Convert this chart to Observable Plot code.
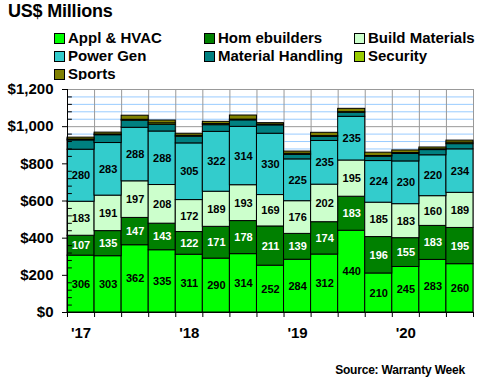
<!DOCTYPE html>
<html>
<head>
<meta charset="utf-8">
<script src="https://cdn.jsdelivr.net/npm/d3@7"></script>
<script src="https://cdn.jsdelivr.net/npm/@observablehq/plot@0.6"></script>
<style>
  body { margin: 0; background: #fff; }
  #wrap { position: relative; width: 480px; height: 380px; overflow: hidden; font-family: "Liberation Sans", Arial, sans-serif; font-weight: bold; color: #000; }
  #title { position: absolute; left: 8px; top: 1px; font-size: 18px; letter-spacing: -0.2px; }
  .leg { position: absolute; font-size: 15px; line-height: 18px; white-space: nowrap; }
  .sw { position: absolute; width: 9px; height: 9px; border: 1px solid #000; }
  #chart { position: absolute; left: 0; top: 80px; }
  #caption { position: absolute; right: 15px; top: 363px; font-size: 12px; letter-spacing: -0.2px; }
</style>
</head>
<body>
<div id="wrap">
  <div id="title">US$ Millions</div>
  <div id="legend"></div>
  <div id="chart"></div>
  <div id="caption">Source: Warranty Week</div>
</div>
<script>
// ---- data ----
const quarters = ["1Q17","2Q17","3Q17","4Q17","1Q18","2Q18","3Q18","4Q18","1Q19","2Q19","3Q19","4Q19","1Q20","2Q20","3Q20"];
const series = ["Appl & HVAC", "Homebuilders", "Build Materials", "Power Gen", "Material Handling", "Security", "Sports"];
const legendLabels = ["Appl & HVAC", "Hom ebuilders", "Build Materials", "Power Gen", "Material Handling", "Security", "Sports"];
const colors = ["#00FF00", "#008000", "#CCFFCC", "#33CCCC", "#008080", "#99CC00", "#808000"];
const appl     = [306, 303, 362, 335, 311, 290, 314, 252, 284, 312, 440, 210, 245, 283, 260];
const homeb    = [107, 135, 147, 143, 122, 171, 178, 211, 139, 174, 183, 196, 155, 183, 195];
const buildMat = [183, 191, 197, 208, 172, 189, 193, 169, 176, 202, 195, 185, 183, 160, 189];
const powerGen = [280, 283, 288, 288, 305, 322, 314, 330, 225, 235, 235, 224, 230, 220, 234];
const matHand  = [50, 42, 38, 36, 36, 36, 35, 45, 24, 22, 22, 23, 40, 28, 28];
const security = [5, 4, 5, 8, 5, 6, 4, 4, 6, 4, 3, 4, 5, 4, 8];
const sports   = [10, 10, 22, 15, 11, 12, 22, 8, 12, 18, 18, 18, 14, 10, 11];
const yTicks = [0, 200, 400, 600, 800, 1000, 1200];
const yTickLabels = ["$0", "$200", "$400", "$600", "$800", "$1,000", "$1,200"];
const xTickQuarters = ["1Q17", "1Q18", "1Q19", "1Q20"];
const xTickLabels = ["'17", "'18", "'19", "'20"];

// ---- build table ----
const valuesBySeries = [appl, homeb, buildMat, powerGen, matHand, security, sports];
const long = [];
series.forEach((s, k) => {
  quarters.forEach((q, i) => long.push({q, i, series: s, value: valuesBySeries[k][i]}));
});
const labeled = new Set(series.slice(0, 4));
const labelData = long.filter(d => labeled.has(d.series));
const minorTicks = d3.range(40, 1200, 40).filter(v => v % 200 !== 0);
const boundaries = d3.range(0, quarters.length + 1);
const xLabelPos = xTickQuarters.map(q => quarters.indexOf(q) + 0.5);

// ---- legend ----
const legend = document.getElementById("legend");
const colX = [54, 204, 354];
const rowY = [32, 50, 68];
series.forEach((s, k) => {
  const c = k % 3, r = Math.floor(k / 3);
  const sw = document.createElement("div");
  sw.className = "sw";
  sw.style.left = colX[c] + "px";
  sw.style.top = (rowY[r] + 1) + "px";
  sw.style.background = colors[k];
  legend.appendChild(sw);
  const t = document.createElement("div");
  t.className = "leg";
  t.style.left = (colX[c] + 14) + "px";
  t.style.top = (rowY[r] - 3) + "px";
  t.textContent = legendLabels[k];
  legend.appendChild(t);
});

// ---- chart ----
const fmtY = d => yTickLabels[yTicks.indexOf(d)];
const fmtX = d => xTickLabels[xLabelPos.indexOf(d)];

const chart = Plot.plot({
  width: 480,
  height: 270,
  marginTop: 9,
  marginBottom: 38,
  marginLeft: 67,
  marginRight: 7,
  x: {type: "linear", domain: [0, quarters.length]},
  y: {domain: [0, 1200]},
  color: {domain: series, range: colors},
  style: {fontFamily: "'Liberation Sans', Arial, sans-serif", background: "white", overflow: "visible", color: "black"},
  marks: [
    Plot.ruleY(minorTicks, {stroke: "#99CCFF", strokeWidth: 1}),
    Plot.ruleY(yTicks.filter(v => v > 0), {stroke: "#999999", strokeWidth: 1}),
    Plot.ruleX(boundaries, {stroke: "#999999", strokeWidth: 1}),
    Plot.rectY(long, Plot.stackY({
      x1: "i", x2: d => d.i + 1, y: "value", fill: "series", z: "series", order: series,
      stroke: "black", strokeWidth: 1
    })),
    Plot.text(labelData, Plot.stackY({
      x: d => d.i + 0.5, y: "value", z: "series", order: series.slice(0, 4),
      text: d => d.series === "Homebuilders" ? "" : String(d.value),
      fill: "black", fontWeight: "bold", fontSize: 11, letterSpacing: "-0.7px"
    })),
    Plot.text(labelData, Plot.stackY({
      x: d => d.i + 0.5, y: "value", z: "series", order: series.slice(0, 4),
      text: d => d.series === "Homebuilders" ? String(d.value) : "",
      fill: "white", fontWeight: "bold", fontSize: 11, letterSpacing: "-0.7px"
    })),
    Plot.ruleY(minorTicks, {x1: 0, x2: 0.18, stroke: "black"}),
    Plot.ruleY([0], {stroke: "black"}),
    Plot.ruleX([0], {stroke: "black"}),
    Plot.axisY({ticks: yTicks, tickFormat: fmtY, tickSize: 5, tickPadding: 9, fontSize: 15, fontWeight: "bold", label: null}),
    Plot.axisX({ticks: boundaries, tickFormat: () => "", tickSize: 5, label: null}),
    Plot.axisX({ticks: xLabelPos, tickFormat: fmtX, tickSize: 0, tickPadding: 15, fontSize: 15, fontWeight: "bold", label: null})
  ]
});
document.getElementById("chart").appendChild(chart);
</script>
</body>
</html>
